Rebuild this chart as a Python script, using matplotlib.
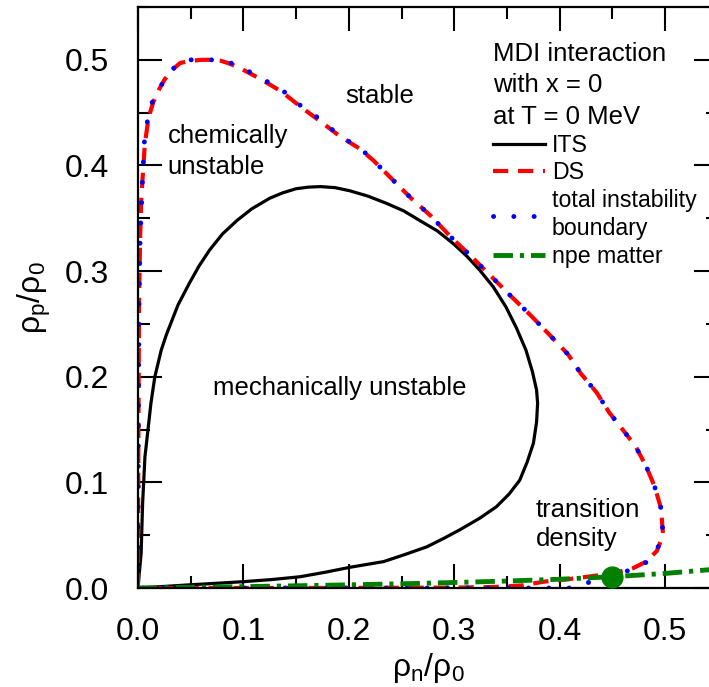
import matplotlib
matplotlib.use("Agg")
import matplotlib.pyplot as plt
from matplotlib.ticker import MultipleLocator

plt.rcParams["font.family"] = ["Liberation Sans", "DejaVu Sans"]
plt.rcParams["mathtext.default"] = "regular"
plt.rcParams["lines.scale_dashes"] = False

# isospinodal (ITS): up the left branch, round, back along the bottom
its_x = [0.000, 0.003, 0.0044, 0.0066, 0.0123, 0.016, 0.022, 0.027, 0.038, 0.049,
         0.058, 0.068, 0.080, 0.094, 0.108, 0.125, 0.137, 0.150, 0.162, 0.173,
         0.187, 0.201, 0.218, 0.236, 0.252, 0.267, 0.284, 0.299, 0.312, 0.324,
         0.337, 0.349, 0.359, 0.368, 0.374, 0.378, 0.379, 0.378, 0.375, 0.369,
         0.362, 0.352, 0.340, 0.324, 0.305, 0.290, 0.274, 0.254, 0.233, 0.201,
         0.178, 0.154, 0.127, 0.100, 0.075, 0.049, 0.025, 0.000]
its_y = [0.000, 0.033, 0.080, 0.124, 0.175, 0.200, 0.225, 0.240, 0.268, 0.289,
         0.305, 0.320, 0.335, 0.348, 0.359, 0.369, 0.374, 0.378, 0.3795, 0.380,
         0.379, 0.376, 0.371, 0.364, 0.357, 0.348, 0.338, 0.326, 0.314, 0.301,
         0.285, 0.266, 0.246, 0.225, 0.205, 0.1875, 0.175, 0.157, 0.137, 0.119,
         0.102, 0.089, 0.077, 0.066, 0.055, 0.047, 0.039, 0.032, 0.025, 0.0196,
         0.015, 0.0107, 0.008, 0.006, 0.0045, 0.003, 0.0015, 0.000]

# dynamical spinodal (DS)
ds_x = [0.000, 0.0003, 0.001, 0.002, 0.003, 0.0045, 0.0065, 0.010, 0.0145, 0.020,
        0.025, 0.032, 0.040, 0.050, 0.060, 0.070, 0.079, 0.088, 0.097, 0.116,
        0.136, 0.155, 0.174, 0.191, 0.210, 0.223, 0.242, 0.259, 0.278, 0.297,
        0.316, 0.335, 0.354, 0.372, 0.390, 0.408, 0.420, 0.435, 0.447, 0.4575,
        0.472, 0.482, 0.490, 0.496, 0.498, 0.492, 0.482, 0.470, 0.455, 0.440,
        0.425, 0.405, 0.385, 0.365, 0.340, 0.300, 0.200, 0.000]
ds_y = [0.000, 0.120, 0.270, 0.330, 0.365, 0.390, 0.420, 0.445, 0.460, 0.472,
        0.481, 0.490, 0.497, 0.499, 0.500, 0.500, 0.499, 0.496, 0.492, 0.482,
        0.470, 0.455, 0.441, 0.428, 0.416, 0.405, 0.386, 0.369, 0.352, 0.332,
        0.314, 0.295, 0.276, 0.2585, 0.240, 0.221, 0.203, 0.185, 0.166, 0.1527,
        0.134, 0.115, 0.096, 0.0755, 0.050, 0.035, 0.025, 0.019, 0.015, 0.0125,
        0.0105, 0.008, 0.006, 0.0025, 0.001, 0.0004, 0.0001, 0.000]

# total instability boundary
tib_x = [0.000, 0.0003, 0.001, 0.002, 0.0035, 0.0045, 0.0063, 0.010, 0.0142, 0.020,
         0.025, 0.032, 0.0395, 0.050, 0.060, 0.070, 0.079, 0.088, 0.098, 0.116,
         0.136, 0.155, 0.174, 0.191, 0.210, 0.223, 0.242, 0.259, 0.278, 0.297,
         0.316, 0.335, 0.354, 0.372, 0.390, 0.408, 0.420, 0.435, 0.447, 0.4575,
         0.472, 0.482, 0.490, 0.496, 0.498, 0.492, 0.482, 0.4695, 0.450, 0.435,
         0.424, 0.411, 0.000]
tib_y = [0.000, 0.118, 0.270, 0.330, 0.366, 0.392, 0.426, 0.448, 0.462, 0.473,
         0.480, 0.490, 0.498, 0.500, 0.500, 0.500, 0.500, 0.497, 0.493, 0.483,
         0.472, 0.456, 0.443, 0.428, 0.417, 0.405, 0.386, 0.369, 0.352, 0.332,
         0.314, 0.295, 0.276, 0.2585, 0.240, 0.221, 0.203, 0.185, 0.166, 0.1527,
         0.134, 0.115, 0.096, 0.0755, 0.050, 0.036, 0.0243, 0.018, 0.0115, 0.007,
         0.0045, 0.000, 0.000]

# npe matter (beta-equilibrium) line
npe_x = [0.00, 0.05, 0.10, 0.15, 0.20, 0.25, 0.30, 0.35, 0.40, 0.45, 0.50, 0.55]
npe_y = [0.000, 0.0006, 0.0013, 0.0021, 0.0030, 0.0040, 0.0052, 0.0066, 0.0083,
         0.0107, 0.0138, 0.0180]

# transition density point
trans_x = [0.450]
trans_y = [0.0107]

fig = plt.figure(figsize=(7.09, 6.87), dpi=100)
ax = fig.add_axes([0.1946, 0.1441, 0.818, 0.8457])

ax.plot(its_x, its_y, color="black", lw=2.3, label="ITS", solid_joinstyle="round")
ax.plot(ds_x, ds_y, color="red", lw=3, linestyle=(0, (11, 7)), label="DS")
ax.plot(tib_x, tib_y, color="blue", lw=3.5, linestyle=(0, (0.1, 14.5)),
        dash_capstyle="round", label="total instability\nboundary")
ax.plot(npe_x, npe_y, color="green", lw=3.5, linestyle=(0, (14, 5, 3, 5)),
        label="npe matter")
ax.plot(trans_x, trans_y, "o", color="green", ms=15, clip_on=False, zorder=5)

ax.set_xlim(0, 0.55)
ax.set_ylim(0, 0.55)
ax.xaxis.set_major_locator(MultipleLocator(0.1))
ax.xaxis.set_minor_locator(MultipleLocator(0.05))
ax.yaxis.set_major_locator(MultipleLocator(0.1))
ax.yaxis.set_minor_locator(MultipleLocator(0.05))
ax.tick_params(which="both", direction="in", top=True, right=True, width=1.5)
ax.tick_params(which="major", length=17, labelsize=23)
ax.tick_params(axis="x", which="major", pad=21)
ax.tick_params(axis="y", which="major", pad=20.5)
ax.tick_params(which="minor", length=8.6)
for sp in ax.spines.values():
    sp.set_linewidth(1.6)

ax.set_xlabel("$ρ_n/ρ_0$", fontsize=23, labelpad=3)
ax.set_ylabel("$ρ_p/ρ_0$", fontsize=23, labelpad=9)

ax.text(0.229, 0.466, "stable", fontsize=18.5, ha="center", va="center")
ax.text(0.028, 0.413, "chemically\nunstable", fontsize=18.5, ha="left", va="center",
        linespacing=1.38)
ax.text(0.191, 0.189, "mechanically unstable", fontsize=18.5, ha="center", va="center")
ax.text(0.377, 0.060, "transition\ndensity", fontsize=18.5, ha="left", va="center",
        linespacing=1.3)

leg = ax.legend(title="MDI interaction\nwith x = 0\nat T = 0 MeV", loc="upper left",
                bbox_to_anchor=(0.612, 0.940), frameon=False, fontsize=16.7,
                title_fontsize=18.5, alignment="left", handlelength=2.25,
                handletextpad=0.3, labelspacing=0.2, borderpad=0, borderaxespad=0)
leg.get_title().set_linespacing(1.4)
for t in leg.get_texts():
    t.set_linespacing(1.3)

fig.savefig("out.png", dpi=100)
